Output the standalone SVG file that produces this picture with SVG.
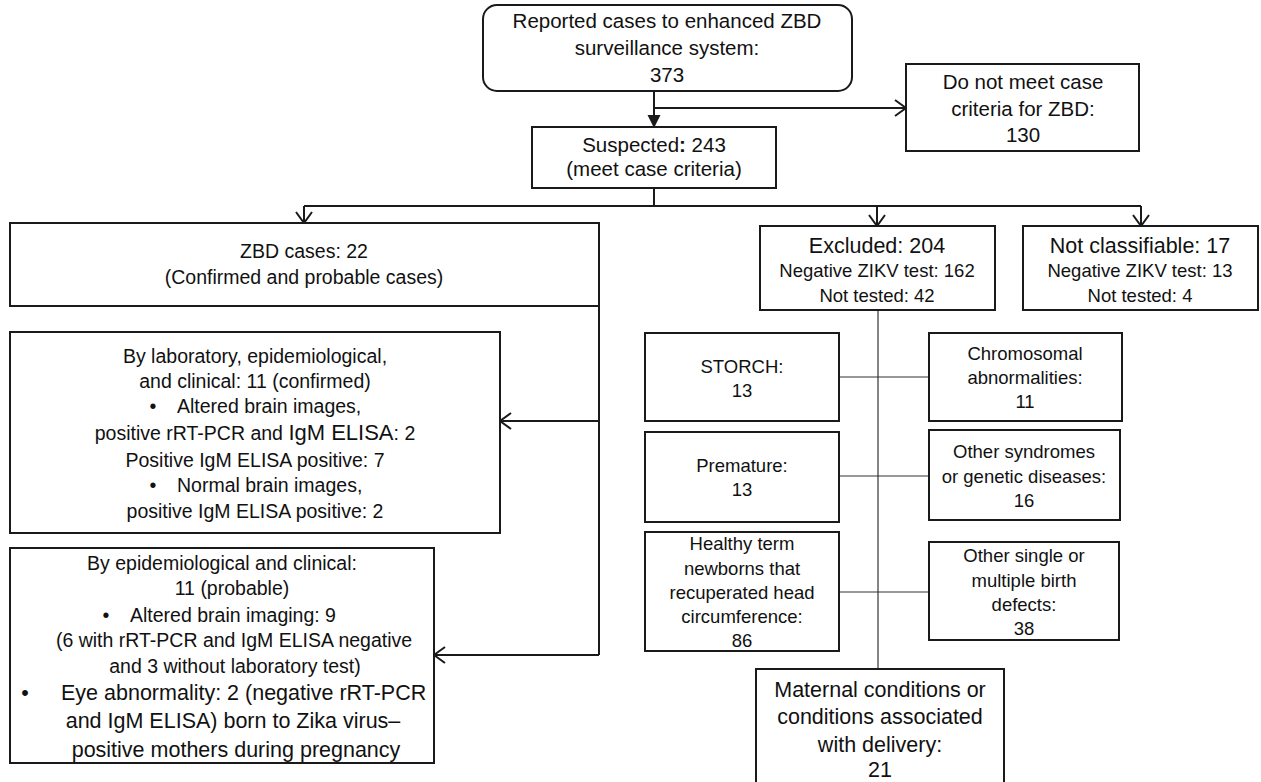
<svg xmlns="http://www.w3.org/2000/svg" width="1261" height="782" viewBox="0 0 1261 782">
<style>
.box{fill:#fff;stroke:#1a1a1a;stroke-width:2}
text{font-family:"Liberation Sans",Arial,sans-serif;fill:#111;text-anchor:middle;font-size:19.5px}
.s{text-anchor:start}
.big{font-size:21.5px}
.med{font-size:20.5px}
.sm{font-size:18.5px}
.conn{stroke:#1a1a1a;stroke-width:2;fill:none}
.thin{stroke:#333;stroke-width:1.2;fill:none}
</style>
<defs>
<marker id="open" markerUnits="userSpaceOnUse" markerWidth="14" markerHeight="18" viewBox="0 0 14 18" refX="12" refY="9" orient="auto">
<path d="M1,1 L12,9 L1,17" fill="none" stroke="#1a1a1a" stroke-width="2"/>
</marker>
<marker id="solid" markerUnits="userSpaceOnUse" markerWidth="14" markerHeight="14" viewBox="0 0 14 14" refX="12" refY="7" orient="auto">
<path d="M0,0.5 L13,7 L0,13.5 Z" fill="#1a1a1a"/>
</marker>
</defs>

<g id="connectors">
<path class="conn" d="M654,91 V127" marker-end="url(#solid)"/>
<path class="conn" d="M654,108 H906" marker-end="url(#open)"/>
<path class="conn" d="M654,188 V206"/>
<path class="conn" d="M304,206 H1141"/>
<path class="conn" d="M304,206 V223" marker-end="url(#open)"/>
<path class="conn" d="M877,206 V226" marker-end="url(#open)"/>
<path class="conn" d="M1141,206 V226" marker-end="url(#open)"/>
<path class="conn" d="M599,306 V655"/>
<path class="conn" d="M599,421 H500" marker-end="url(#open)"/>
<path class="conn" d="M599,655 H434" marker-end="url(#open)"/>
<path class="thin" d="M878,310 V669"/>
<path class="thin" d="M839,377 H929"/>
<path class="thin" d="M839,476 H929"/>
<path class="thin" d="M839,592 H929"/>
</g>

<g id="reported">
<rect class="box" x="483" y="5" width="369" height="86" rx="14"/>
<text class="med" x="667" y="28">Reported cases to enhanced ZBD</text>
<text class="med" x="667" y="55">surveillance system:</text>
<text class="med" x="667" y="82">373</text>
</g>

<g id="donotmeet">
<rect class="box" x="906" y="64" width="233" height="87"/>
<text class="med" x="1023" y="89">Do not meet case</text>
<text class="med" x="1023" y="116">criteria for ZBD:</text>
<text class="med" x="1023" y="142">130</text>
</g>

<g id="suspected">
<rect class="box" x="532" y="127" width="244" height="61"/>
<text class="med" x="654" y="152">Suspected<tspan font-weight="bold">:</tspan> 243</text>
<text class="med" x="654" y="176">(meet case criteria)</text>
</g>

<g id="zbd">
<rect class="box" x="10" y="223" width="589" height="83"/>
<text x="304" y="258">ZBD cases: 22</text>
<text x="304" y="284">(Confirmed and probable cases)</text>
</g>

<g id="confirmed">
<rect class="box" x="10" y="332" width="490" height="201"/>
<text x="255" y="363">By laboratory, epidemiological,</text>
<text x="255" y="388">and clinical: 11 (confirmed)</text>
<text x="153" y="413">•</text>
<text class="s" x="177" y="413">Altered brain images,</text>
<text x="255" y="440">positive rRT-PCR  and <tspan font-size="22px">IgM ELISA</tspan>: 2</text>
<text x="255" y="467">Positive IgM ELISA positive: 7</text>
<text x="153" y="492">•</text>
<text class="s" x="177" y="492">Normal brain images,</text>
<text x="255" y="518">positive IgM ELISA positive: 2</text>
</g>

<g id="probable">
<rect class="box" x="10" y="548" width="424" height="215"/>
<text x="222" y="570">By epidemiological and clinical:</text>
<text x="232" y="595">11 (probable)</text>
<text x="106" y="622">•</text>
<text class="s" x="130" y="622">Altered brain imaging: 9</text>
<text x="234" y="647">(6 with rRT-PCR and IgM ELISA negative</text>
<text x="235" y="673">and 3 without laboratory test)</text>
<text class="big" x="25" y="700">•</text>
<text class="s big" x="61" y="700">Eye abnormality: 2 (negative rRT-PCR</text>
<text class="big" x="233" y="728">and IgM ELISA) born to Zika virus–</text>
<text class="big" x="236" y="757">positive mothers during pregnancy</text>
</g>

<g id="excluded">
<rect class="box" x="760" y="226" width="235" height="84"/>
<text class="big" x="877" y="253">Excluded: 204</text>
<text class="sm" x="877" y="277">Negative ZIKV test: 162</text>
<text class="sm" x="877" y="302">Not tested: 42</text>
</g>

<g id="notclassifiable">
<rect class="box" x="1023" y="226" width="235" height="84"/>
<text class="big" x="1140" y="253">Not classifiable: 17</text>
<text class="sm" x="1140" y="277">Negative ZIKV test: 13</text>
<text class="sm" x="1140" y="302">Not tested: 4</text>
</g>

<g id="storch">
<rect class="box" x="645" y="333" width="194" height="88"/>
<text class="sm" x="742" y="373">STORCH:</text>
<text class="sm" x="742" y="397">13</text>
</g>

<g id="chromosomal">
<rect class="box" x="929" y="333" width="193" height="88"/>
<text class="sm" x="1025" y="360">Chromosomal</text>
<text class="sm" x="1025" y="384">abnormalities:</text>
<text class="sm" x="1025" y="408">11</text>
</g>

<g id="premature">
<rect class="box" x="645" y="432" width="194" height="90"/>
<text class="sm" x="742" y="472">Premature:</text>
<text class="sm" x="742" y="496">13</text>
</g>

<g id="othersyndromes">
<rect class="box" x="929" y="430" width="191" height="90"/>
<text class="sm" x="1024" y="458">Other syndromes</text>
<text class="sm" x="1024" y="483">or genetic diseases:</text>
<text class="sm" x="1024" y="507">16</text>
</g>

<g id="healthy">
<rect class="box" x="645" y="532" width="194" height="119"/>
<text class="sm" x="742" y="550">Healthy term</text>
<text class="sm" x="742" y="575">newborns that</text>
<text class="sm" x="742" y="599">recuperated head</text>
<text class="sm" x="742" y="623">circumference:</text>
<text class="sm" x="742" y="647">86</text>
</g>

<g id="othersingle">
<rect class="box" x="929" y="542" width="190" height="98"/>
<text class="sm" x="1024" y="562">Other single or</text>
<text class="sm" x="1024" y="587">multiple birth</text>
<text class="sm" x="1024" y="611">defects:</text>
<text class="sm" x="1024" y="635">38</text>
</g>

<g id="maternal">
<rect class="box" x="756" y="669" width="248" height="125"/>
<text class="big" x="880" y="697">Maternal conditions or</text>
<text class="big" x="880" y="724">conditions associated</text>
<text class="big" x="880" y="752">with delivery:</text>
<text class="big" x="880" y="777">21</text>
</g>
</svg>
